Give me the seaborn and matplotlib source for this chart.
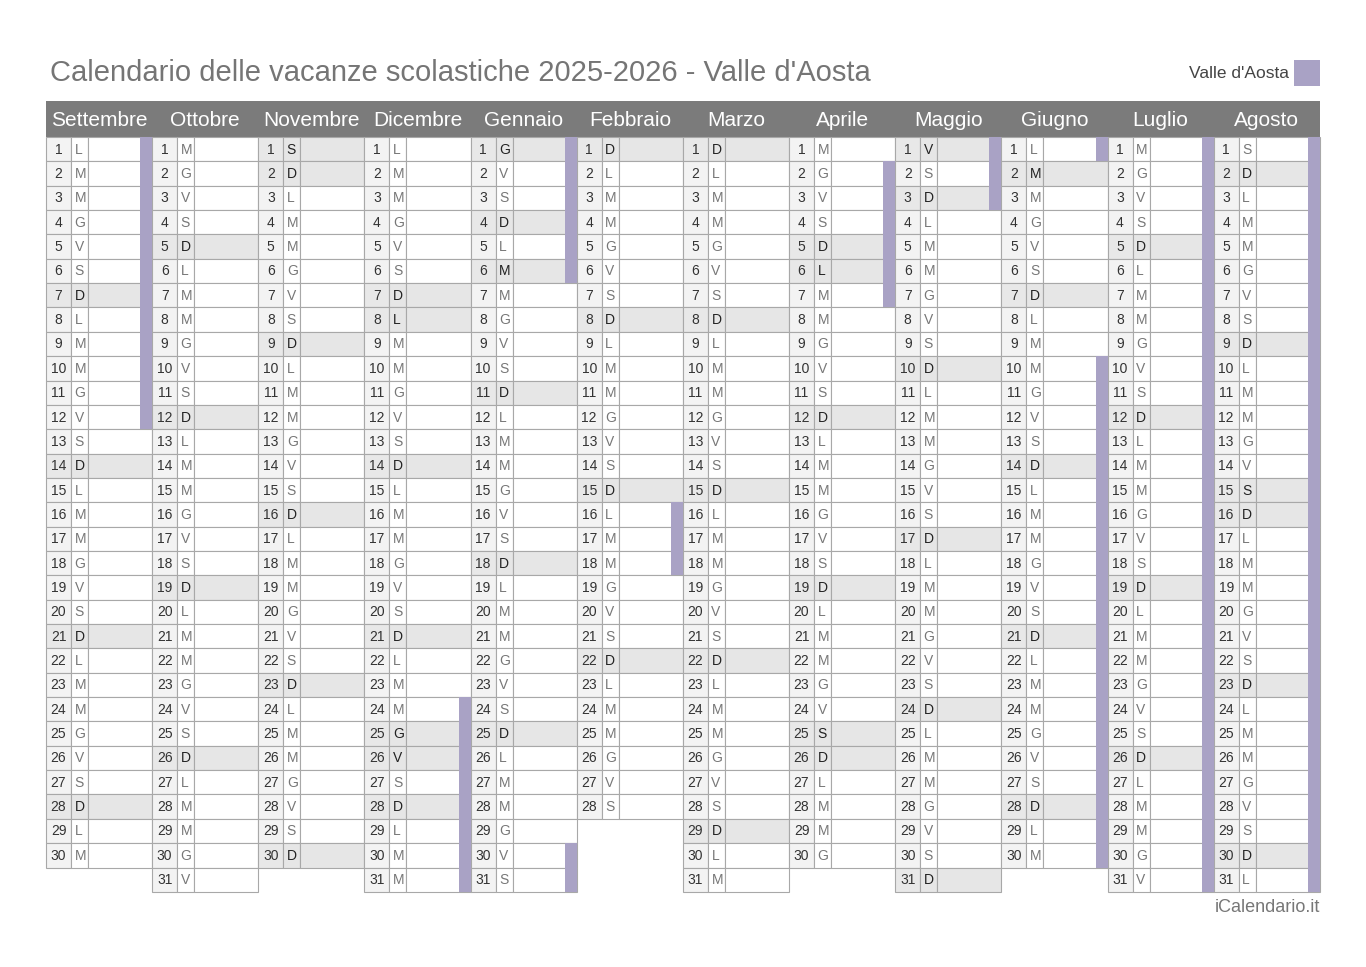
import datetime
import matplotlib
matplotlib.use("Agg")
import matplotlib.pyplot as plt
import seaborn as sns
from matplotlib.patches import Rectangle

sns.set_theme(style="white", font="Liberation Sans")

# data
months = ["Settembre", "Ottobre", "Novembre", "Dicembre", "Gennaio", "Febbraio",
          "Marzo", "Aprile", "Maggio", "Giugno", "Luglio", "Agosto"]
month_nums = [9, 10, 11, 12, 1, 2, 3, 4, 5, 6, 7, 8]
years = [2025, 2025, 2025, 2025, 2026, 2026, 2026, 2026, 2026, 2026, 2026, 2026]
weekday_letters = ["L", "M", "M", "G", "V", "S", "D"]
holidays = [(11, 1), (12, 8), (12, 25), (12, 26), (1, 1), (1, 6), (4, 5), (4, 6),
            (4, 25), (5, 1), (6, 2), (8, 15)]
vacations = {
    9: list(range(1, 13)),
    12: list(range(24, 32)),
    1: list(range(1, 7)) + [30, 31],
    2: [16, 17, 18],
    4: list(range(2, 8)),
    5: [1, 2, 3],
    6: [1] + list(range(10, 31)),
    7: list(range(1, 32)),
    8: list(range(1, 32)),
}

PURPLE = "#a9a2c5"
HEAD = "#7b7b7b"
LINE = "#a8a8a8"

fig = plt.figure(figsize=(13.66, 9.67), dpi=100)
ax = fig.add_axes([0, 0, 1, 1])
ax.set_xlim(0, 1366)
ax.set_ylim(967, 0)
ax.axis("off")

x0, col_w = 46, 106.15
y_head, head_h = 101, 36
y0, row_h = 137, 24.35
w_num, w_let, w_strip = 25, 17, 12

ax.text(50, 73, "Calendario delle vacanze scolastiche 2025-2026 - Valle d'Aosta",
        fontsize=21, color="#757575", va="center", ha="left")
ax.text(1289, 73, "Valle d'Aosta", fontsize=12.5, color="#444444", va="center", ha="right")
ax.add_patch(Rectangle((1294, 60), 26, 26, facecolor=PURPLE, edgecolor="none"))
ax.text(1320, 907, "iCalendario.it", fontsize=13, color="#777777", va="center", ha="right")

ax.add_patch(Rectangle((x0, y_head), col_w * 12, head_h, facecolor=HEAD, edgecolor="none"))

for i, (name, m, yr) in enumerate(zip(months, month_nums, years)):
    cx = x0 + i * col_w
    ax.text(cx + col_w / 2, y_head + head_h / 2 + 1, name, color="white", fontsize=15,
            ha="center", va="center")
    ndays = (datetime.date(yr + (m == 12), m % 12 + 1, 1) - datetime.date(yr, m, 1)).days
    for d in range(1, ndays + 1):
        wd = datetime.date(yr, m, d).weekday()
        ry = y0 + (d - 1) * row_h
        special = wd == 6 or (m, d) in holidays
        vac = d in vacations.get(m, [])
        # number cell
        ax.add_patch(Rectangle((cx, ry), w_num, row_h,
                               facecolor="#e8e8e8" if special else "#f3f3f3",
                               edgecolor=LINE, linewidth=0.8))
        # letter cell + blank area
        ax.add_patch(Rectangle((cx + w_num, ry), w_let, row_h,
                               facecolor="#e6e6e6" if special else "white",
                               edgecolor=LINE, linewidth=0.8))
        ax.add_patch(Rectangle((cx + w_num + w_let, ry), col_w - w_num - w_let, row_h,
                               facecolor="#e6e6e6" if special else "white",
                               edgecolor=LINE, linewidth=0.8))
        if vac:
            ax.add_patch(Rectangle((cx + col_w - w_strip, ry), w_strip, row_h,
                                   facecolor=PURPLE, edgecolor="none", zorder=3))
        ax.text(cx + w_num / 2, ry + row_h / 2 + 0.5, str(d), fontsize=10,
                color="#333333", ha="center", va="center")
        ax.text(cx + w_num + 3.5, ry + row_h / 2 + 0.5, weekday_letters[wd], fontsize=10,
                color="#222222" if special else "#777777", ha="left", va="center")

fig.savefig("out.png", dpi=100)
